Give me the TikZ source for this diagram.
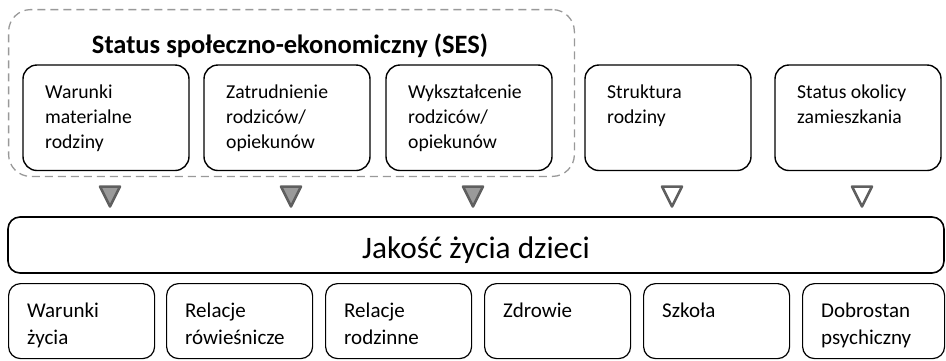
\documentclass[tikz,border=0pt]{standalone}
\usepackage{fontspec}
\setmainfont{Carlito}
\usetikzlibrary{calc}
\definecolor{dashgray}{HTML}{999999}
\definecolor{trifill}{HTML}{9A9A9A}
\definecolor{tristroke}{HTML}{5F5F5F}
\begin{document}
\begin{tikzpicture}[x=1pt,y=-1pt,
  topbox/.style={draw=black, line width=1.4pt, rounded corners=14pt, minimum width=166pt, minimum height=105.5pt, inner sep=0pt, outer sep=0pt, anchor=north west},
  bigbox/.style={draw=black, line width=1.6pt, rounded corners=12pt, minimum width=936pt, minimum height=56pt, inner sep=0pt, outer sep=0pt, anchor=north west},
  botbox/.style={draw=black, line width=1.2pt, rounded corners=12pt, minimum width=146pt, minimum height=75pt, inner sep=0pt, outer sep=0pt, anchor=north west},
  sesbox/.style={draw=dashgray, line width=1.3pt, dash pattern=on 8pt off 5pt, rounded corners=22pt, minimum width=565.8pt, minimum height=166.8pt, inner sep=0pt, outer sep=0pt, anchor=north west},
  toptxt/.style={anchor=north west, inner sep=0pt, align=left, font=\fontsize{19.7}{25}\selectfont},
  bottxt/.style={anchor=north west, inner sep=0pt, align=left, font=\fontsize{21}{27}\selectfont},
  trifull/.style={draw=tristroke, fill=trifill, line width=2.5pt, line join=round},
  triempty/.style={draw=tristroke, fill=white, line width=2.5pt, line join=round}
]
\useasboundingbox (0,0) rectangle (946,360);

% SES group
\node[sesbox] (ses) at (8.6,9.6) {};
\node[anchor=base, inner sep=0pt, font=\bfseries\fontsize{26.5}{30}\selectfont] (sestitle) at (290,53) {Status społeczno-ekonomiczny (SES)};

% top boxes
\node[topbox] (t1) at (23,65) {};
\node[topbox] (t2) at (204,65) {};
\node[topbox] (t3) at (386,65) {};
\node[topbox] (t4) at (585,65) {};
\node[topbox] (t5) at (775,65) {};

\node[toptxt] (t1txt) at ($(t1.north west)+(22,18)$) {\rule{0pt}{15pt}Warunki\\materialne\\rodziny};
\node[toptxt] (t2txt) at ($(t2.north west)+(22,18)$) {\rule{0pt}{15pt}Zatrudnienie\\rodziców/\\opiekunów};
\node[toptxt] (t3txt) at ($(t3.north west)+(22,18)$) {\rule{0pt}{15pt}Wykształcenie\\rodziców/\\opiekunów};
\node[toptxt] (t4txt) at ($(t4.north west)+(22,18)$) {\rule{0pt}{15pt}Struktura\\rodziny};
\node[toptxt] (t5txt) at ($(t5.north west)+(22,18)$) {\rule{0pt}{15pt}Status okolicy\\zamieszkania};

% main box
\node[bigbox] (main) at (8,217) {};
\node[anchor=base, inner sep=0pt, font=\fontsize{31.3}{36}\selectfont] (maintxt) at ($(main.north)+(0,41)$) {Jakość życia dzieci};

% triangles (influence markers from top boxes to the main box)
\draw[trifull] ($(t1.south)+(4,16)$) ++(-10,0) -- ++(20,0) -- ++(-10,20) -- cycle;
\draw[trifull] ($(t2.south)+(4,16)$) ++(-10,0) -- ++(20,0) -- ++(-10,20) -- cycle;
\draw[trifull] ($(t3.south)+(4,16)$) ++(-10,0) -- ++(20,0) -- ++(-10,20) -- cycle;
\draw[triempty] ($(t4.south)+(4,16)$) ++(-10,0) -- ++(20,0) -- ++(-10,20) -- cycle;
\draw[triempty] ($(t5.south)+(4,16)$) ++(-10,0) -- ++(20,0) -- ++(-10,20) -- cycle;

% bottom boxes
\node[botbox] (b1) at (8.6,283.6) {};
\node[botbox] (b2) at (166.6,283.6) {};
\node[botbox] (b3) at (325.6,283.6) {};
\node[botbox] (b4) at (484.6,283.6) {};
\node[botbox] (b5) at (643.6,283.6) {};
\node[botbox, minimum width=142pt] (b6) at (802.6,283.6) {};

\node[bottxt] (b1txt) at ($(b1.north west)+(18.4,16.4)$) {\rule{0pt}{17pt}Warunki\\życia};
\node[bottxt] (b2txt) at ($(b2.north west)+(18.4,16.4)$) {\rule{0pt}{17pt}Relacje\\rówieśnicze};
\node[bottxt] (b3txt) at ($(b3.north west)+(18.4,16.4)$) {\rule{0pt}{17pt}Relacje\\rodzinne};
\node[bottxt] (b4txt) at ($(b4.north west)+(18.4,16.4)$) {\rule{0pt}{17pt}Zdrowie};
\node[bottxt] (b5txt) at ($(b5.north west)+(18.4,16.4)$) {\rule{0pt}{17pt}Szkoła};
\node[bottxt] (b6txt) at ($(b6.north west)+(18.4,16.4)$) {\rule{0pt}{17pt}Dobrostan\\psychiczny};
\end{tikzpicture}
\end{document}
